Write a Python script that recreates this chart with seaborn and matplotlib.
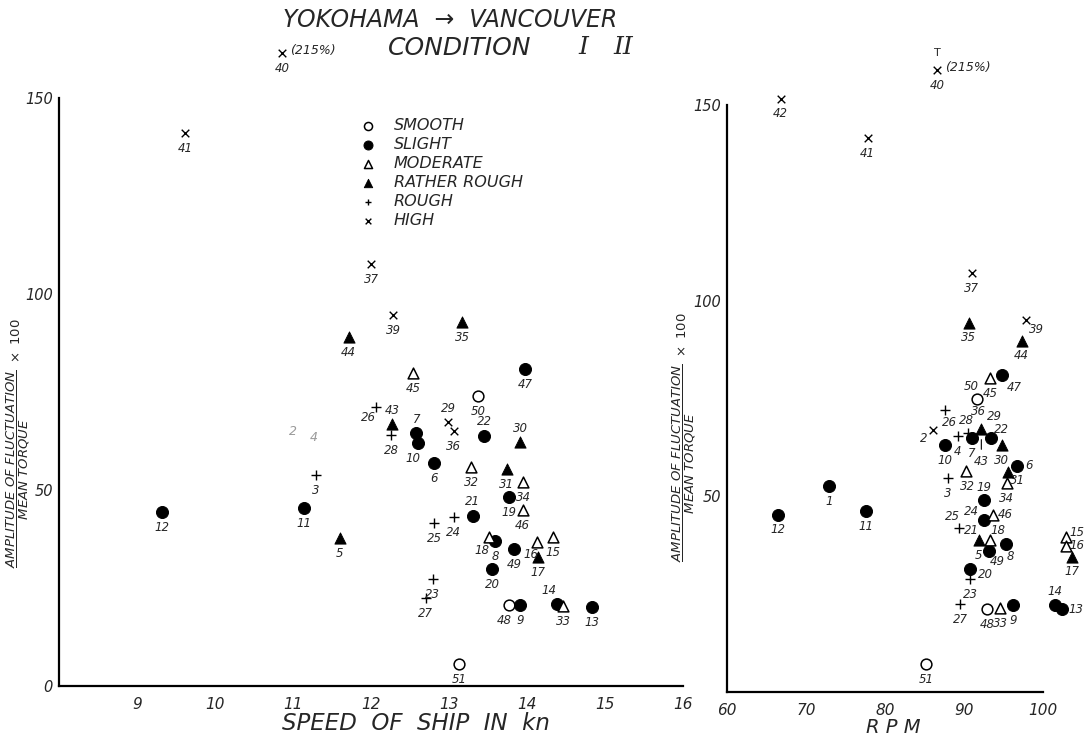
import numpy as np
import pandas as pd
import seaborn as sns
import matplotlib.pyplot as plt

# ---------------- data ----------------
cond_names = {'SM': 'SMOOTH', 'SL': 'SLIGHT', 'MO': 'MODERATE',
              'RR': 'RATHER ROUGH', 'RO': 'ROUGH', 'HI': 'HIGH'}

# left panel: amplitude vs speed of ship
speed_ids = [41, 40, 12, 11, 5, 3, 44, 39, 35, 37, 45, 47, 50, 26, 43, 28, 7, 10,
             29, 36, 22, 30, 6, 32, 31, 34, 19, 46, 21, 24, 25, 18, 8, 49, 16, 17,
             15, 20, 23, 27, 48, 9, 14, 33, 13, 51]
speed_cond = ['HI', 'HI', 'SL', 'SL', 'RR', 'RO', 'RR', 'HI', 'RR', 'HI', 'MO', 'SL',
              'SM', 'RO', 'RR', 'RO', 'SL', 'SL', 'HI', 'HI', 'SL', 'RR', 'SL', 'MO',
              'RR', 'MO', 'SL', 'MO', 'SL', 'RO', 'RO', 'MO', 'SL', 'SL', 'MO', 'RR',
              'MO', 'SL', 'RO', 'RO', 'SM', 'SL', 'SL', 'MO', 'SL', 'SM']
speed_kn = [9.62, 10.86, 9.32, 11.14, 11.60, 11.29, 11.71, 12.28, 13.17, 12.00, 12.54,
            13.97, 13.37, 12.06, 12.27, 12.26, 12.58, 12.60, 12.99, 13.06, 13.45, 13.91,
            12.81, 13.28, 13.74, 13.95, 13.76, 13.94, 13.30, 13.06, 12.81, 13.51, 13.59,
            13.83, 14.12, 14.14, 14.33, 13.55, 12.79, 12.70, 13.76, 13.91, 14.38, 14.46,
            14.83, 13.13]
speed_amp = [141, 215, 44.4, 45.4, 37.8, 53.8, 89, 94.6, 92.9, 107.6, 79.8, 80.9, 74,
             71.2, 66.8, 64, 64.5, 62, 67.3, 65.1, 63.8, 62.2, 56.9, 55.9, 55.4, 52,
             48.2, 44.9, 43.4, 43.1, 41.6, 38, 37, 34.9, 36.7, 32.9, 38, 29.8, 27.3,
             22.4, 20.7, 20.7, 20.9, 20.4, 20.2, 5.6]
# faint numbers without a readable mark
speed_faint_ids = ['2', '4']
speed_faint_kn = [11.0, 11.26]
speed_faint_amp = [64.8, 63.3]

# right panel: amplitude vs RPM
rpm_ids = [42, 41, 40, 37, 35, 39, 44, 47, 45, 50, 26, 2, 10, 4, 28, 7, 43, 22, 30,
           6, 31, 34, 32, 3, 19, 24, 21, 46, 25, 5, 18, 8, 49, 20, 23, 15, 16, 17,
           27, 48, 33, 9, 14, 13, 51, 12, 1, 11]
rpm_cond = ['HI', 'HI', 'HI', 'HI', 'RR', 'HI', 'RR', 'SL', 'MO', 'SM', 'RO', 'HI',
            'SL', 'RO', 'RO', 'SL', 'RR', 'SL', 'RR', 'SL', 'RR', 'MO', 'MO', 'RO',
            'SL', 'RO', 'SL', 'MO', 'RO', 'RR', 'MO', 'SL', 'SL', 'SL', 'RO', 'MO',
            'MO', 'RR', 'RO', 'SM', 'MO', 'SL', 'SL', 'SL', 'SM', 'SL', 'SL', 'SL']
rpm_val = [66.8, 77.8, 86.6, 91.0, 90.6, 97.8, 97.3, 94.8, 93.3, 91.6, 87.6, 86.1,
           87.6, 89.2, 90.5, 91.0, 92.2, 93.4, 94.8, 96.7, 95.6, 95.4, 90.3, 88.0,
           92.5, 92.5, 92.5, 93.7, 89.4, 91.9, 93.3, 95.3, 93.2, 90.8, 90.8, 102.9,
           102.9, 103.7, 89.5, 92.9, 94.6, 96.2, 101.5, 102.4, 85.2, 66.5, 72.9, 77.6]
rpm_amp = [151.7, 141.5, 215, 107, 94.4, 95.2, 89.8, 80.9, 80.2, 75, 72, 67, 63.1,
           65.4, 66.2, 64.9, 67.2, 64.9, 63.1, 57.8, 56.2, 53.4, 56.5, 54.7, 49.1, 44,
           44, 45.3, 42, 38.7, 38.7, 37.9, 36.1, 31.3, 28.8, 39.7, 37.4, 34.6, 22.4,
           21.1, 21.4, 22.1, 22.1, 21.1, 7.1, 45.3, 52.7, 46.3]
rpm_faint_ids = ['36', '29']
rpm_faint_val = [91.8, 93.8]
rpm_faint_amp = [71.6, 70.4]

OFF_SCALE = 200  # values above this are drawn just over the top of the axis

# ---------------- styles / label placement ----------------
styles = {
    'SMOOTH': dict(marker='o', s=60, facecolor='white', edgecolor='black', linewidth=1.1),
    'SLIGHT': dict(marker='o', s=75, color='black', edgecolor='black'),
    'MODERATE': dict(marker='^', s=60, facecolor='white', edgecolor='black', linewidth=1.1),
    'RATHER ROUGH': dict(marker='^', s=65, color='black', edgecolor='black'),
    'ROUGH': dict(marker='+', s=45, color='black', linewidth=1.0),
    'HIGH': dict(marker='x', s=30, color='black', linewidth=1.0),
}

off_left = {43: (0, 10), 7: (0, 10), 29: (0, 10), 22: (0, 10), 30: (0, 10),
            21: (0, 10), 14: (-6, 10), 26: (-5, -8), 10: (-4, -11), 18: (-5, -10),
            16: (-4, -9), 48: (-3, -11)}
off_right = {39: (8, -7), 47: (9, -9), 50: (-4, 9), 26: (3, -9), 2: (-7, -6),
             28: (-1, 9), 22: (8, 6), 6: (9, 0), 31: (7, -6), 32: (1, -11),
             19: (0, 9), 46: (9, 0), 25: (-5, 8), 18: (6, 7), 8: (3, -9),
             20: (11, -4), 49: (6, -8), 15: (8, 3), 16: (8, 0), 14: (0, 10),
             13: (10, 0), 24: (-9, 6), 21: (-9, -8), 43: None}

sns.set_style('white')
plt.rcParams['font.family'] = ['DejaVu Sans']
plt.rcParams['mathtext.fontset'] = 'dejavusans'

fig = plt.figure(figsize=(10.84, 7.36), dpi=100)
ax1 = fig.add_axes([0.0544, 0.068, 0.576, 0.799])
ax2 = fig.add_axes([0.6707, 0.060, 0.3293, 0.797])

df_speed = pd.DataFrame({'id': speed_ids, 'cond': [cond_names[c] for c in speed_cond],
                         'x': speed_kn, 'amp': speed_amp})
df_rpm = pd.DataFrame({'id': rpm_ids, 'cond': [cond_names[c] for c in rpm_cond],
                       'x': rpm_val, 'amp': rpm_amp})


def draw_panel(ax, df, offsets, cap):
    df = df.copy()
    df['y'] = np.where(df['amp'] > OFF_SCALE, cap, df['amp'])
    for name in cond_names.values():
        sub = df[df['cond'] == name]
        sns.scatterplot(x='x', y='y', data=sub, ax=ax, label=name, clip_on=False,
                        zorder=3, legend=False, **styles[name])
    for _, r in df.iterrows():
        off = offsets.get(int(r['id']), (0, -11))
        if off is None:
            continue
        ax.annotate(str(int(r['id'])), (r['x'], r['y']), xytext=off,
                    textcoords='offset points', ha='center', va='center',
                    fontsize=8.5, style='italic', annotation_clip=False)
        if r['amp'] > OFF_SCALE:
            ax.annotate('(%d%%)' % r['amp'], (r['x'], r['y']), xytext=(6, 2),
                        textcoords='offset points', ha='left', va='center',
                        fontsize=9, style='italic', annotation_clip=False)


draw_panel(ax1, df_speed, off_left, 161.5)
draw_panel(ax2, df_rpm, off_right, 159)

for lab, x, y in zip(speed_faint_ids, speed_faint_kn, speed_faint_amp):
    ax1.text(x, y, lab, fontsize=9, style='italic', color='#9a9a9a', ha='center', va='center')
for lab, x, y in zip(rpm_faint_ids, rpm_faint_val, rpm_faint_amp):
    ax2.text(x, y, lab, fontsize=8.5, style='italic', ha='center', va='center')

# leader line for 43 and the mark over 40 on the right
i43 = rpm_ids.index(43)
ax2.annotate('43', (rpm_val[i43], rpm_amp[i43] - 2), xytext=(0, -18),
             textcoords='offset points', ha='center', va='center', fontsize=8.5,
             style='italic', arrowprops=dict(arrowstyle='-', lw=0.8, color='black'))
i40 = rpm_ids.index(40)
ax2.annotate('T', (rpm_val[i40], 159), xytext=(0, 12), textcoords='offset points',
             ha='center', va='center', fontsize=8, annotation_clip=False)

# axes
ax1.set_xlim(8, 16)
ax1.set_ylim(0, 150)
ax1.set_xticks([9, 10, 11, 12, 13, 14, 15, 16])
ax1.set_yticks([0, 50, 100, 150])
ax2.set_xlim(60, 105.2)
ax2.set_ylim(0, 150)
ax2.set_xticks([60, 70, 80, 90, 100])
ax2.set_yticks([50, 100, 150])

for ax in (ax1, ax2):
    sns.despine(ax=ax)
    ax.spines['left'].set_linewidth(1.6)
    ax.spines['bottom'].set_linewidth(1.6)
    ax.spines['left'].set_color('black')
    ax.spines['bottom'].set_color('black')
    ax.tick_params(axis='x', direction='in', length=6, width=1.2, pad=8, labelsize=11)
    ax.tick_params(axis='y', direction='out', length=4, width=1.2, pad=0.5, labelsize=10.5)
    for t in ax.get_xticklabels() + ax.get_yticklabels():
        t.set_fontstyle('italic')
ax2.spines['bottom'].set_bounds(60, 100)

ylab = (r'$\dfrac{\mathit{AMPLITUDE\ OF\ FLUCTUATION}}{\mathit{MEAN\ TORQUE}}'
        r'\ \times\ \mathit{100}$')
ax1.set_ylabel(ylab, fontsize=9.5)
ax1.yaxis.set_label_coords(-0.043, 0.413)
ax2.set_ylabel(ylab, fontsize=9.5)
ax2.yaxis.set_label_coords(-0.08, 0.434)

ax1.set_xlabel('SPEED  OF  SHIP  IN  kn', fontsize=16.5, style='italic')
ax1.xaxis.set_label_coords(0.572, -0.045)
ax2.set_xlabel('R P M', fontsize=14, style='italic')
ax2.xaxis.set_label_coords(0.465, -0.044)

# legend
ax1.legend(loc='upper left', bbox_to_anchor=(360 / 1084, 1 - 118 / 736),
           bbox_transform=fig.transFigure, frameon=False, borderpad=0,
           borderaxespad=0, handlelength=1.0, handletextpad=1.1, labelspacing=0.25,
           markerscale=0.75, prop={'size': 11.5, 'style': 'italic'})

# titles
fig.text(0.415, 0.973, 'YOKOHAMA  →  VANCOUVER', ha='center', va='center',
         fontsize=17, style='italic')
fig.text(0.424, 0.935, 'CONDITION', ha='center', va='center', fontsize=18, style='italic')
fig.text(0.538, 0.935, 'I', ha='center', va='center', fontsize=18, style='italic',
         family='DejaVu Serif')
fig.text(0.575, 0.935, 'II', ha='center', va='center', fontsize=18, style='italic',
         family='DejaVu Serif')

plt.savefig('out.png', dpi=100)
